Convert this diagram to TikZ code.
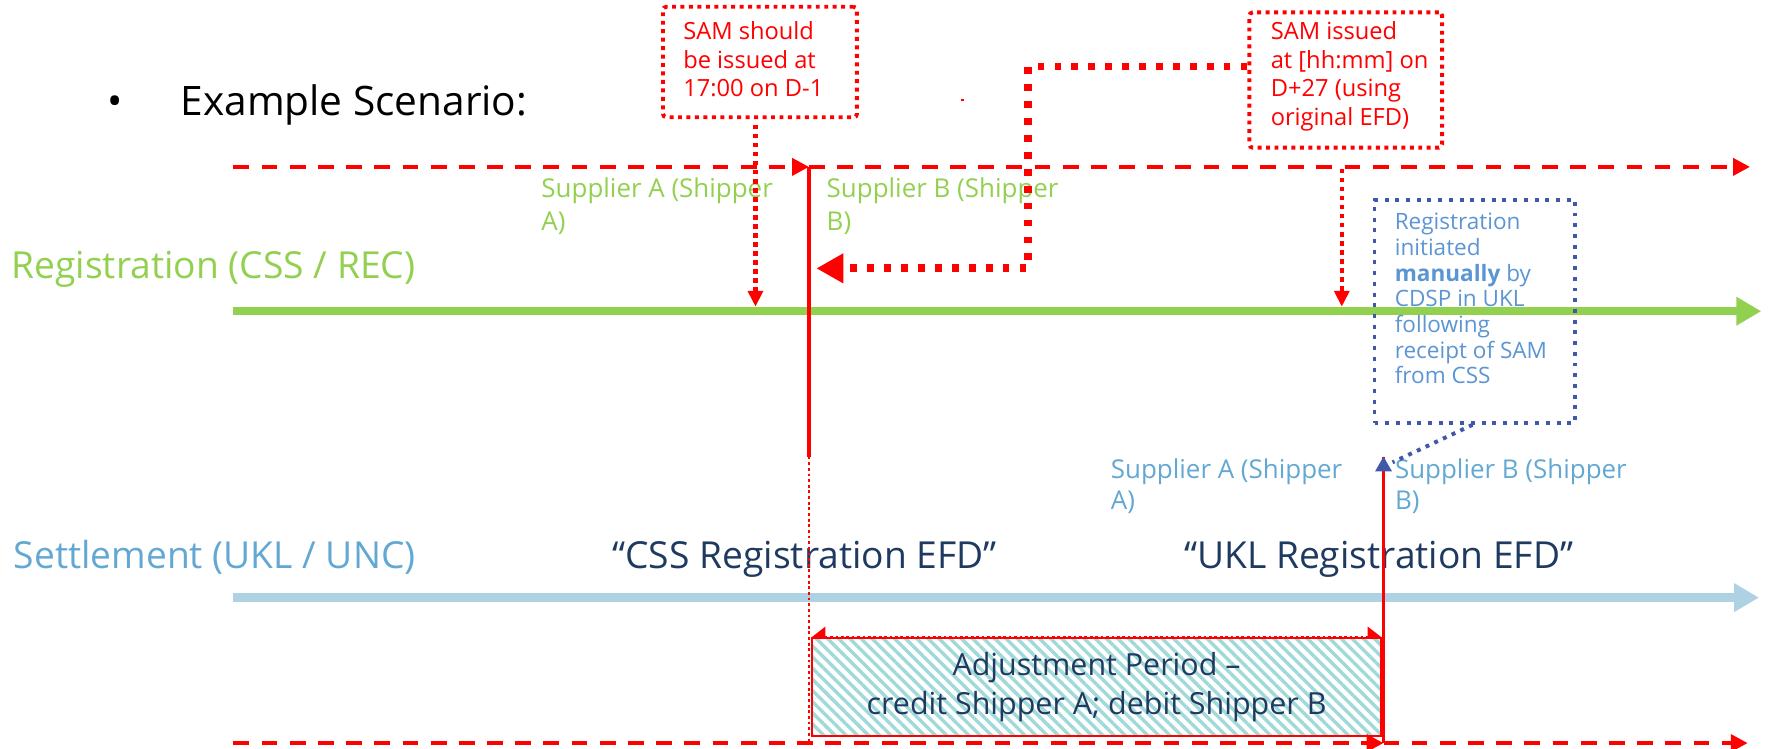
\documentclass[tikz,border=0pt]{standalone}
\usepackage{fontspec}
\setmainfont{Open Sans}
\usetikzlibrary{arrows.meta,patterns.meta}
\definecolor{cRed}{HTML}{FF0000}
\definecolor{cGreen}{HTML}{92D050}
\definecolor{cLBtext}{HTML}{62A8D2}
\definecolor{cBoxText}{HTML}{5B95D3}
\definecolor{cBoxLine}{HTML}{3F58A8}
\definecolor{cNavy}{HTML}{1F3A60}
\definecolor{cLBline}{HTML}{AED2E4}
\definecolor{cHatch}{HTML}{A0D9DA}
\newcommand{\boxtxt}[5]{\parbox[c][#2][t]{#1}{\vspace*{#4}\raggedright\leftskip=#3\relax #5}}
\newcommand{\twoline}[2]{\parbox[t]{260pt}{#1\\#2}}
\begin{document}
\begin{tikzpicture}[x=1pt,y=-1pt,
 redDash/.style={draw=cRed,line width=3.5pt,dash pattern=on 14pt off 11pt,-{Triangle[length=15pt,width=15pt]}},
 timeline/.style={line width=7.5pt,-{Triangle[length=22pt,width=24pt]}},
 redBox/.style={draw=cRed,line width=3.5pt,dash pattern=on 3.5pt off 4pt,rounded corners=3pt,inner sep=0pt,text=cRed,font=\fontsize{21}{25.5}\selectfont},
 redDotArrow/.style={draw=cRed,line width=4pt,dash pattern=on 4pt off 4pt,-{Triangle[length=14pt,width=13pt]}},
 thickDot/.style={draw=cRed,line width=7pt,dash pattern=on 6pt off 9pt,-{Triangle[length=24pt,width=25pt]}},
 blueBox/.style={draw=cBoxLine,line width=3.5pt,dash pattern=on 3.5pt off 6pt,inner sep=0pt,text=cBoxText,font=\fontsize{20}{22.8}\selectfont},
 blueDot/.style={draw=cBoxLine,line width=3.5pt,dash pattern=on 3.5pt off 5pt},
 bigLabel/.style={anchor=base west,inner sep=0pt,font=\fontsize{33}{40}\selectfont},
 supLabel/.style={anchor=base west,inner sep=0pt,font=\fontsize{23}{29}\selectfont},
 adjBox/.style={draw=cRed,line width=1.5pt,preaction={fill=white},pattern={Lines[angle=-45,distance=7pt,line width=3pt]},pattern color=cHatch,minimum width=505pt,minimum height=87pt,inner sep=0pt,align=center,text=cNavy,font=\fontsize{27}{35}\selectfont},
 adjArrow/.style={draw=cRed,line width=2.4pt,dash pattern=on 2.4pt off 2.4pt,{Triangle[length=12pt,width=18pt]}-{Triangle[length=12pt,width=18pt]}}
]
\useasboundingbox (0,0) rectangle (1568,664);

% coordinates
\coordinate (tdL) at (207,148);
\coordinate (tdM) at (717.5,148);
\coordinate (tdR) at (1552,148);
\coordinate (gL) at (207,276);
\coordinate (gR) at (1562,276);
\coordinate (bL) at (207,530);
\coordinate (bR) at (1560,530);
\coordinate (btL) at (207,659);
\coordinate (btM) at (1227,659);
\coordinate (btR) at (1550,659);
\coordinate (cssMid) at (717.5,405);
\coordinate (cssBot) at (717.5,659);
\coordinate (uklTop) at (1227,405);
\coordinate (d1) at (670,272);
\coordinate (d2) at (1190,272);
\coordinate (cssArrow) at (724,238);
\coordinate (bend) at (912,238);
\coordinate (adjTL) at (720,565);
\coordinate (adjTR) at (1225,565);
\coordinate (blueEnd) at (1235,410);

% timelines
\draw[timeline,cGreen] (gL) -- (gR);
\draw[timeline,cLBline] (bL) -- (bR);

% title
\node[anchor=base,inner sep=0pt,font=\fontsize{36}{40}\selectfont] (bullet) at (102,102) {•};
\node[anchor=base west,inner sep=0pt,font=\fontsize{36}{40}\selectfont] (title) at (160,102) {Example Scenario:};

% labels
\node[bigLabel,text=cGreen] (reg) at (10,247) {Registration (CSS / REC)};
\node[bigLabel,text=cLBtext] (set) at (12,504) {Settlement (UKL / UNC)};
\node[bigLabel,text=cNavy] (cssefd) at (543,504) {“CSS Registration EFD”};
\node[bigLabel,text=cNavy] (uklefd) at (1050,504) {“UKL Registration EFD”};

\node[supLabel,text=cGreen] (gsa) at (480,175) {\twoline{Supplier A (Shipper}{A)}};
\node[supLabel,text=cGreen] (gsb) at (733,175) {\twoline{Supplier B (Shipper}{B)}};
\node[supLabel,text=cLBtext,font=\fontsize{23}{28}\selectfont] (bsa) at (985,424) {\twoline{Supplier A (Shipper}{A)}};
\node[supLabel,text=cLBtext,font=\fontsize{23}{28}\selectfont] (bsb) at (1237,424) {\twoline{Supplier B (Shipper}{B)}};

% adjustment period
\draw[adjArrow] (adjTL) -- (adjTR);
\node[adjBox] (adj) at (972.5,609.5) {Adjustment Period –\\credit Shipper A; debit Shipper B};

% blue box
\node[blueBox] (cdsp) at (1308,276) {\boxtxt{178pt}{198pt}{18pt}{12pt}{Registration\\initiated\\\textbf{manually} by\\CDSP in UKL\\following\\receipt of SAM\\from CSS}};

% red boxes
\node[redBox] (sam1) at (674,55) {\boxtxt{172pt}{98pt}{18pt}{13pt}{SAM should\\be issued at\\17:00 on D-1}};
\node[redBox] (sam2) at (1193.5,71) {\boxtxt{171pt}{120pt}{19pt}{8pt}{SAM issued\\at [hh:mm] on\\D+27 (using\\original EFD)}};

% vertical lines
\draw[cRed,line width=3.5pt] (tdM) -- (cssMid);
\draw[cRed,line width=2pt,dash pattern=on 2.5pt off 2.5pt] (cssMid) -- (cssBot);
\draw[cRed,line width=3.5pt] (uklTop) -- (btM);

% dashed lines
\draw[redDash] (tdL) -- (tdM);
\draw[redDash] (tdM) -- (tdR);
\draw[redDash] (btL) -- (btM);
\draw[redDash] (btM) -- (btR);

% red arrows
\draw[redDotArrow] ([xshift=-4pt,yshift=-5pt]sam1.south) -- (d1);
\draw[redDotArrow] ([xshift=-3.5pt,yshift=-17pt]sam2.south) -- (d2);
\draw[thickDot] ([yshift=12pt]sam2.west) -| (bend) -- (cssArrow);

% blue connector
\draw[blueDot] ([xshift=-2pt]cdsp.south) -- (blueEnd);
\fill[cBoxLine] (uklTop) -- ++(-7.5,13) -- ++(15,0) -- cycle;

% stray mark
\fill[cRed] (852,88) rectangle (854.5,89.5);
\end{tikzpicture}
\end{document}
